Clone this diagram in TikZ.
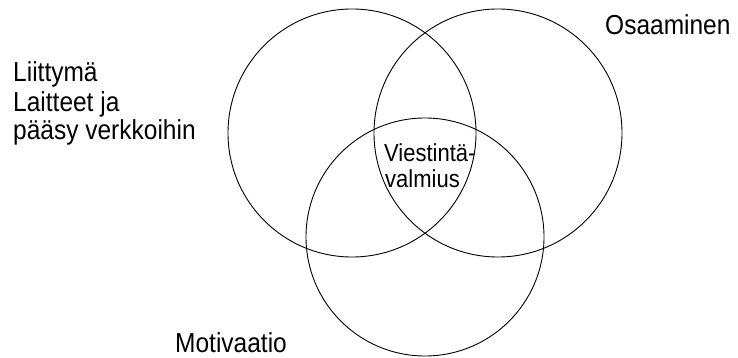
\documentclass[tikz,border=0pt]{standalone}
\usepackage{fontspec}
\setmainfont{Liberation Sans}
\newcommand{\tall}[1]{\scalebox{1}[1.12]{#1}}
\begin{document}
\begin{tikzpicture}[x=1pt,y=-1pt,
    ring/.style={circle,draw,line width=0.9pt,inner sep=0pt},
    label/.style={anchor=base west,inner sep=0pt,font=\fontsize{24.5}{29}\selectfont},
    core/.style={anchor=base west,inner sep=0pt,font=\fontsize{22}{26}\selectfont}]

        \useasboundingbox (0,0) rectangle (738,358);

        \begin{scope}
          \node[ring,minimum size=248pt] (liittyma) at (352,133) {};
          \node[ring,minimum size=248pt] (osaaminen) at (498,133) {};
          \node[ring,minimum size=238pt] (motivaatio) at (425,237) {};
        \end{scope}

        \node[label] (l1) at (13,82) {\tall{Liittymä}};
        \node[label] (l2) at (13,112) {\tall{Laitteet ja}};
        \node[label] (l3) at (13,140) {\tall{pääsy verkkoihin}};
        \node[label] (o1) at (605,35) {\tall{Osaaminen}};
        \node[label] (m1) at (175,352) {\tall{Motivaatio}};

        \node[core] (v1) at (384,161) {\tall{Viestintä-}};
        \node[core] (v2) at (385,187) {\tall{valmius}};

      \end{tikzpicture}
\end{document}
